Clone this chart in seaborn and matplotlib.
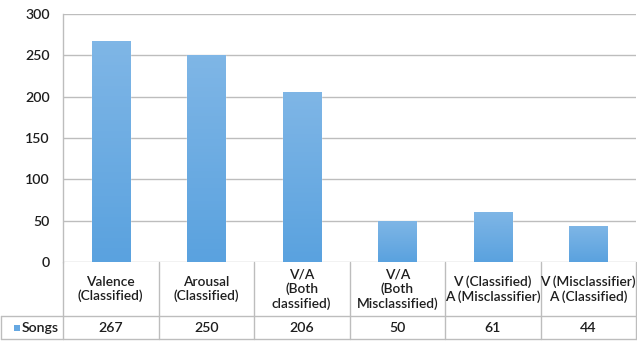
import numpy as np
import pandas as pd
import seaborn as sns
import matplotlib
matplotlib.use("Agg")
import matplotlib.pyplot as plt
from matplotlib.transforms import blended_transform_factory
from matplotlib.patches import Rectangle
from matplotlib.colors import LinearSegmentedColormap

# Chart data
categories = [
    "Valence\n(Classified)",
    "Arousal\n(Classified)",
    "V/A\n(Both\nclassified)",
    "V/A\n(Both\nMisclassified)",
    "V (Classified)\nA (Misclassifier)",
    "V (Misclassifier)\nA (Classified)",
]
songs = [267, 250, 206, 50, 61, 44]
series_name = "Songs"
y_ticks = [0, 50, 100, 150, 200, 250, 300]

df = pd.DataFrame({"category": categories, "songs": songs})

sns.set_theme(style="white")
plt.rcParams["font.family"] = ["Lato", "DejaVu Sans"]

FS = 9.9
TXT = "#1e1e1e"
WEIGHT = "semibold"

W, H = 637, 343
fig = plt.figure(figsize=(W / 100, H / 100), dpi=100)
ax_left, ax_right, ax_top, ax_bottom = 63, 636, 14, 262
ax = fig.add_axes([ax_left / W, 1 - ax_bottom / H,
                   (ax_right - ax_left) / W, (ax_bottom - ax_top) / H])

bar_color = "#66a8e2"
sns.barplot(data=df, x="category", y="songs", color=bar_color,
            width=0.4, saturation=1, ax=ax, zorder=3)

# soft vertical gradient on each bar
grad = LinearSegmentedColormap.from_list("bar", ["#5aa2df", "#7fb6e6"])
for p in ax.patches:
    x0, y0 = p.get_x(), p.get_y()
    w, h = p.get_width(), p.get_height()
    img = ax.imshow(np.linspace(0, 1, 64).reshape(-1, 1), cmap=grad,
                    extent=[x0, x0 + w, y0, y0 + h], origin="lower",
                    aspect="auto", zorder=4)
    img.set_clip_path(p)

ax.set_xlim(-0.5, len(categories) - 0.5)
ax.set_ylim(0, 300)
ax.set_yticks(y_ticks)
ax.set_yticklabels([str(t) for t in y_ticks], fontsize=FS + 0.3, color=TXT,
                   fontweight=WEIGHT)
ax.tick_params(axis="y", length=0, pad=9.4)
ax.set_xticks([])
ax.set_xlabel("")
ax.set_ylabel("")
ax.grid(axis="y", color="#bdbdbd", linewidth=1.0, zorder=0)
for s in ["top", "right", "bottom"]:
    ax.spines[s].set_visible(False)
ax.spines["left"].set_color("#bdbdbd")
ax.spines["left"].set_linewidth(1.0)

# data table below the axis
trans = blended_transform_factory(ax.transData, ax.transAxes)
ah = ax_bottom - ax_top
hdr_bot = -(316 - ax_bottom) / ah
row_bot = -(339 - ax_bottom) / ah
line_kw = dict(color="#bdbdbd", linewidth=1.0, clip_on=False, zorder=1)

n = len(categories)
# vertical separators
for i in range(n + 1):
    ax.plot([i - 0.5, i - 0.5], [0, row_bot], transform=trans, **line_kw)
# horizontal lines
ax.plot([-0.5, n - 0.5], [hdr_bot, hdr_bot], transform=trans, **line_kw)
ax.plot([-0.5, n - 0.5], [row_bot, row_bot], transform=trans, **line_kw)

# legend cell on the left
axes_w = ax_right - ax_left
lx = -(ax_left - 1) / axes_w
ax.plot([lx, 0], [hdr_bot, hdr_bot], transform=ax.transAxes, **line_kw)
ax.plot([lx, 0], [row_bot, row_bot], transform=ax.transAxes, **line_kw)
ax.plot([lx, lx], [hdr_bot, row_bot], transform=ax.transAxes, **line_kw)

row_mid = (hdr_bot + row_bot) / 2
sq = 6
ax.add_patch(Rectangle(((14 - ax_left) / axes_w, row_mid - sq / 2 / ah),
                       sq / axes_w, sq / ah, transform=ax.transAxes,
                       facecolor=bar_color, edgecolor="none", clip_on=False))
ax.text((22 - ax_left) / axes_w, row_mid, series_name, transform=ax.transAxes,
        ha="left", va="center", fontsize=FS + 0.3, color=TXT, fontweight=WEIGHT)

hdr_mid = hdr_bot / 2
for i, (cat, v) in enumerate(zip(categories, songs)):
    ax.text(i, hdr_mid, cat, transform=trans, ha="center", va="center",
            fontsize=FS, color=TXT, linespacing=1.2, fontweight=WEIGHT)
    ax.text(i, row_mid, str(v), transform=trans, ha="center", va="center",
            fontsize=FS + 0.3, color=TXT, fontweight=WEIGHT)

fig.savefig("out.png", dpi=100, facecolor="white")
